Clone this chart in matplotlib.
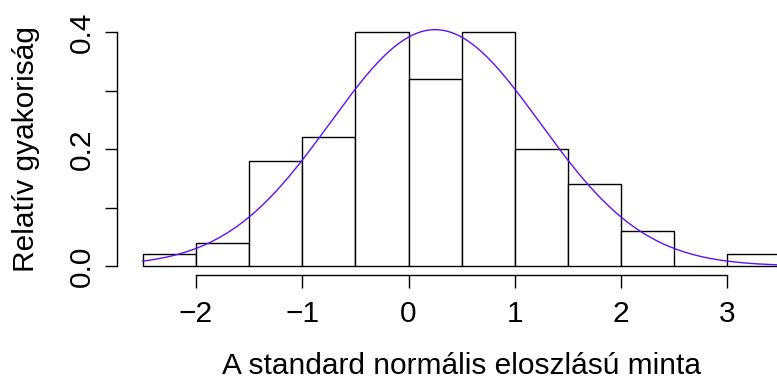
import numpy as np
import matplotlib
matplotlib.use("Agg")
import matplotlib.pyplot as plt

plt.rcParams['font.family'] = ['Liberation Sans', 'DejaVu Sans']

# Histogram data (relative frequency densities)
bin_edges = [-2.5, -2.0, -1.5, -1.0, -0.5, 0.0, 0.5, 1.0, 1.5, 2.0, 2.5, 3.0, 3.5]
heights = [0.02, 0.04, 0.18, 0.22, 0.40, 0.32, 0.40, 0.20, 0.14, 0.06, 0.00, 0.02]

# fitted normal curve parameters (sample mean / sd)
fit_mean = 0.25
fit_sd = 0.986

x_ticks = [-2, -1, 0, 1, 2, 3]
x_ticklabels = ['\u22122', '\u22121', '0', '1', '2', '3']
y_ticks = [0.0, 0.1, 0.2, 0.3, 0.4]
y_ticklabels = ['0.0', '', '0.2', '', '0.4']

W, H = 777, 379
fig = plt.figure(figsize=(W / 100, H / 100), dpi=100)
left_px, right_px, top_px, bottom_px = 117.3, 806.0, 23.0, 275.3
ax = fig.add_axes([left_px / W, 1 - bottom_px / H,
                   (right_px - left_px) / W, (bottom_px - top_px) / H])
ax.set_xlim(-2.74, 3.74)
ax.set_ylim(-0.016, 0.416)

edges = np.array(bin_edges)
widths = np.diff(edges)
ax.bar(edges[:-1], heights, width=widths, align='edge',
       facecolor='white', edgecolor='black', linewidth=1.0, clip_on=False)

xs = np.linspace(edges[0], edges[-1], 400)
ys = np.exp(-0.5 * ((xs - fit_mean) / fit_sd) ** 2) / (fit_sd * np.sqrt(2 * np.pi))
ax.plot(xs, ys, color='#6010F0', linewidth=1.0, clip_on=False)

for s in ['top', 'right']:
    ax.spines[s].set_visible(False)
ax.spines['left'].set_bounds(0, 0.4)
ax.spines['bottom'].set_bounds(-2, 3)
ax.spines['left'].set_linewidth(1.0)
ax.spines['bottom'].set_linewidth(1.0)

fs = 21.5
ax.set_xticks(x_ticks)
ax.set_xticklabels(x_ticklabels, fontsize=fs)
ax.set_yticks(y_ticks)
ax.set_yticklabels(y_ticklabels, fontsize=fs, rotation=90, va='center')
ax.tick_params(axis='both', direction='out', length=9, width=1.0, color='black')
ax.tick_params(axis='x', pad=9)
ax.tick_params(axis='y', pad=6.5)

ax.set_xlabel('A standard normális eloszlású minta', fontsize=fs, labelpad=17)
ax.set_ylabel('Relatív gyakoriság', fontsize=fs, labelpad=20)

fig.savefig('out.png', dpi=100)
